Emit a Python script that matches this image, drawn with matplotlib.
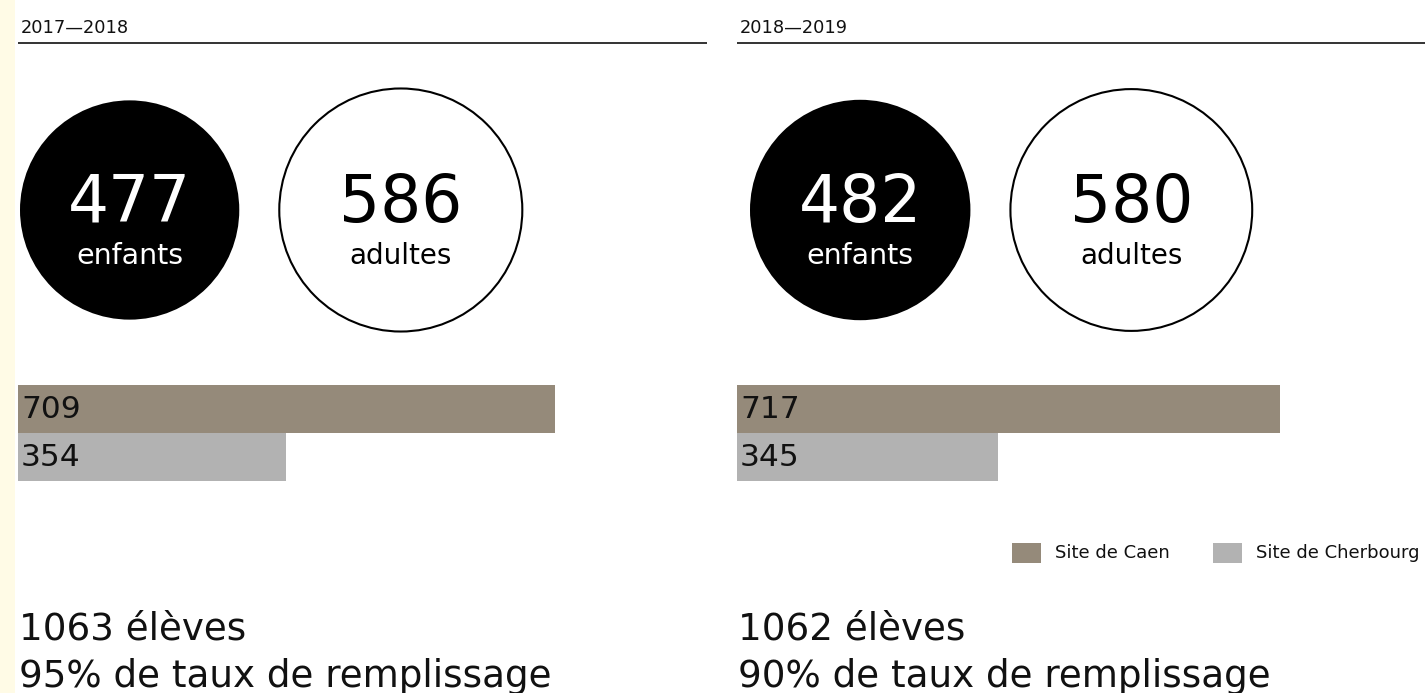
import matplotlib
matplotlib.use("Agg")
import matplotlib.pyplot as plt
from matplotlib.patches import Circle, Rectangle
import numpy as np

plt.rcParams["font.family"] = ["DejaVu Sans"]

# Data.
years = ["2017—2018", "2018—2019"]
enfants = [477, 482]
adultes = [586, 580]
site_caen = [709, 717]
site_cherbourg = [354, 345]
eleves = [1063, 1062]
remplissage = [95, 90]
legend_labels = ["Site de Caen", "Site de Cherbourg"]

CAEN_COLOR = "#958a7a"
CHERBOURG_COLOR = "#b2b2b2"
TEXT_COLOR = "#111111"

W, H = 1427, 693
fig = plt.figure(figsize=(W / 100, H / 100), dpi=100)
fig.patch.set_facecolor("white")

# Full-figure axes in pixel units for the non-bar elements.
bg = fig.add_axes([0, 0, 1, 1])
bg.set_xlim(0, W)
bg.set_ylim(H, 0)
bg.axis("off")

# thin pale strip on the left border
bg.add_patch(Rectangle((0, 0), 15, H, color="#fffbe6", lw=0))

panel_left = [18, 737]
panel_right = [707, 1425]
circle_left = [20, 750]
CIRCLE_Y = 210
CIRCLE_GAP = 40
R_SCALE = 5.02      # radius in px per sqrt(value)
BAR_SCALE = 0.757   # px per pupil

for i in range(2):
    x0, x1 = panel_left[i], panel_right[i]

    # header
    bg.text(x0 + 3, 33, years[i], fontsize=12.8, va="baseline", ha="left", color=TEXT_COLOR)
    bg.plot([x0, x1], [43, 43], color="#333333", lw=1.4, solid_capstyle="butt")

    # circles
    r_e = R_SCALE * np.sqrt(enfants[i])
    r_a = R_SCALE * np.sqrt(adultes[i])
    cx_e = circle_left[i] + r_e
    cx_a = cx_e + r_e + CIRCLE_GAP + r_a
    bg.add_patch(Circle((cx_e, CIRCLE_Y), r_e, facecolor="black", edgecolor="black", lw=0))
    bg.add_patch(Circle((cx_a, CIRCLE_Y), r_a, facecolor="white", edgecolor="black", lw=1.5))
    bg.text(cx_e, 222, str(enfants[i]), fontsize=46.5, color="white",
            ha="center", va="baseline")
    bg.text(cx_e, 264, "enfants", fontsize=20.5, color="white",
            ha="center", va="baseline")
    bg.text(cx_a, 222, str(adultes[i]), fontsize=46.5, color="black",
            ha="center", va="baseline")
    bg.text(cx_a, 264, "adultes", fontsize=20, color="black",
            ha="center", va="baseline")

    # bars, on their own axes so the width comes from the data scale
    bar_top, bar_bottom = 385, 481
    pw = x1 - x0
    bax = fig.add_axes([x0 / W, (H - bar_bottom) / H, pw / W, (bar_bottom - bar_top) / H])
    bax.set_xlim(0, pw / BAR_SCALE)
    bax.set_ylim(1.5, -0.5)
    bax.barh([0, 1], [site_caen[i], site_cherbourg[i]], height=1.0,
             color=[CAEN_COLOR, CHERBOURG_COLOR], align="center")
    for j, v in enumerate([site_caen[i], site_cherbourg[i]]):
        bax.text(3 / BAR_SCALE, j + 0.02, str(v), fontsize=22.5, va="center", ha="left",
                 color=TEXT_COLOR)
    bax.axis("off")
    bax.patch.set_alpha(0)

    # summary (the descender of the last line runs off the bottom, as in the original)
    bg.text(x0 + 1, 639, f"{eleves[i]} élèves", fontsize=26.8, va="baseline", ha="left",
            color=TEXT_COLOR)
    bg.text(x0 + 1, 687, f"{remplissage[i]}% de taux de remplissage", fontsize=26.8,
            va="baseline", ha="left", color=TEXT_COLOR)

# legend
leg_x = [1012, 1213]
for k, (lab, col) in enumerate(zip(legend_labels, [CAEN_COLOR, CHERBOURG_COLOR])):
    bg.add_patch(Rectangle((leg_x[k], 543), 29, 20, color=col, lw=0))
    bg.text(leg_x[k] + 43, 558, lab, fontsize=13, va="baseline", ha="left", color=TEXT_COLOR)

fig.savefig("out.png", dpi=100)
